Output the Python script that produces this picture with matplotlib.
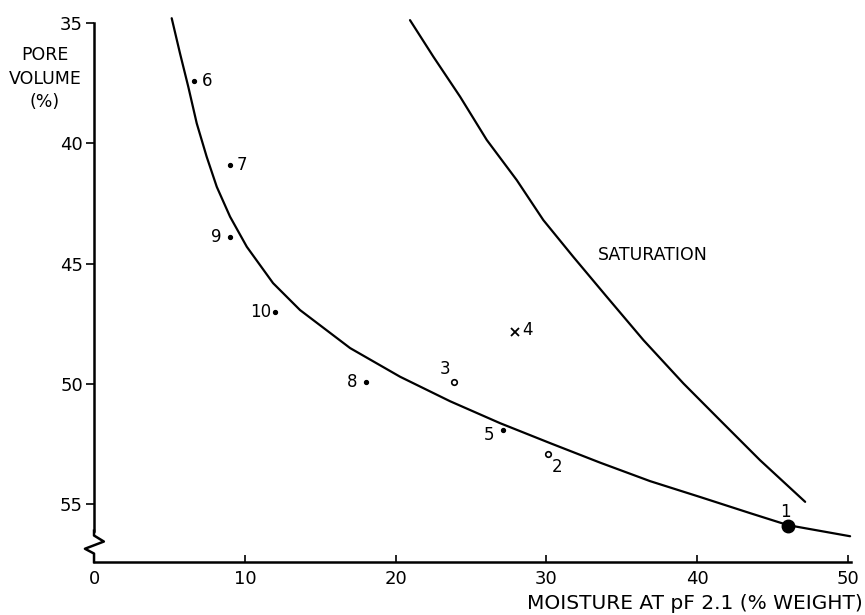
import matplotlib
matplotlib.use("Agg")
import matplotlib.pyplot as plt
import matplotlib.transforms as mtransforms

# ---- data ----
# fitted curve (moisture at pF 2.1 vs pore volume)
curve_x = [5.15, 5.70, 6.25, 6.81, 7.47, 8.14, 9.02, 10.13, 11.87, 13.66, 16.98, 20.29,
           23.61, 26.92, 30.24, 33.55, 36.87, 40.19, 43.50, 46.02, 50.13]
curve_y = [34.80, 36.26, 37.65, 39.17, 40.56, 41.81, 43.05, 44.30, 45.81, 46.93, 48.51, 49.70,
           50.72, 51.63, 52.46, 53.27, 54.04, 54.70, 55.37, 55.87, 56.33]

# saturation curve
sat_x = [20.95, 22.50, 24.27, 26.04, 28.03, 29.79, 31.78, 34.00, 36.43, 39.08, 41.51, 44.16, 47.15]
sat_y = [34.88, 36.40, 38.06, 39.86, 41.53, 43.19, 44.72, 46.38, 48.18, 49.98, 51.51, 53.17, 54.90]

# sample points
pt_labels = ["1", "2", "3", "4", "5", "6", "7", "8", "9", "10"]
pt_x = [46.0, 30.1, 23.9, 27.9, 27.1, 6.6, 9.0, 18.0, 9.0, 12.0]
pt_y = [55.9, 52.9, 49.9, 47.85, 51.9, 37.4, 40.9, 49.9, 43.9, 47.0]

x_ticks = [0, 10, 20, 30, 40, 50]
y_ticks = [35, 40, 45, 50, 55]

# ---- styles ----
marker_style = {
    "1": dict(marker="o", ms=9, mfc="black", mec="black"),
    "2": dict(marker="o", ms=4, mfc="white", mec="black", mew=1.2),
    "3": dict(marker="o", ms=4, mfc="white", mec="black", mew=1.2),
    "4": dict(marker="x", ms=6, mec="black", mew=1.3),
}
label_offset = {
    "1": (-2, 10), "2": (6.5, -9.5), "3": (-7, 9), "4": (9, 1.5),
    "5": (-10, -3.5), "6": (10, 0), "7": (9, 0), "8": (-9.5, 0),
    "9": (-9.5, 0), "10": (-10, 0),
}

plt.rcParams['font.family'] = ['DejaVu Sans']
fig = plt.figure(figsize=(8.65, 6.15), dpi=100)
ax = fig.add_axes([0.1087, 0.0862, 0.8753, 0.892])

ax.plot(curve_x, curve_y, color="black", lw=1.6, clip_on=False,
        solid_capstyle="round", solid_joinstyle="round")
ax.plot(sat_x, sat_y, color="black", lw=1.6, clip_on=False,
        solid_capstyle="round", solid_joinstyle="round")

for lab, x, y in zip(pt_labels, pt_x, pt_y):
    st = marker_style.get(lab, dict(marker="o", ms=2.8, mfc="black", mec="black"))
    ax.plot([x], [y], linestyle="none", clip_on=False, **st)
    ax.annotate(lab, (x, y), xytext=label_offset[lab], textcoords="offset points",
                ha="center", va="center", fontsize=12)

ax.text(33.4, 44.65, "SATURATION", fontsize=12.5, ha="left", va="center")

ax.set_xlim(0, 50.2)
ax.set_ylim(57.4, 34.6)
ax.set_xticks(x_ticks)
ax.set_yticks(y_ticks)
ax.tick_params(axis="x", direction="in", length=5, width=1.2, labelsize=13, pad=6)
ax.tick_params(axis="y", direction="out", length=6, width=1.2, labelsize=13, pad=2)

for s in ["top", "right"]:
    ax.spines[s].set_visible(False)
ax.spines["bottom"].set_linewidth(1.8)
ax.spines["left"].set_linewidth(1.8)
ax.spines["left"].set_bounds(35, 56.1)

# axis break zigzag on the y axis
tr = mtransforms.blended_transform_factory(ax.transAxes, ax.transData)
zx = [0, 0, 0.013, -0.012, 0, 0]
zy = [56.1, 56.3, 56.55, 56.85, 57.05, 57.4]
ax.plot(zx, zy, color="black", lw=1.8, transform=tr, clip_on=False)

fig.text(0.052, 0.872, "PORE\nVOLUME\n(%)", ha="center", va="center",
         fontsize=12.5, linespacing=1.4)
fig.text(0.997, 0.018, "MOISTURE AT pF 2.1 (% WEIGHT)", ha="right", va="center",
         fontsize=14.5)

fig.savefig("out.png", dpi=100)
